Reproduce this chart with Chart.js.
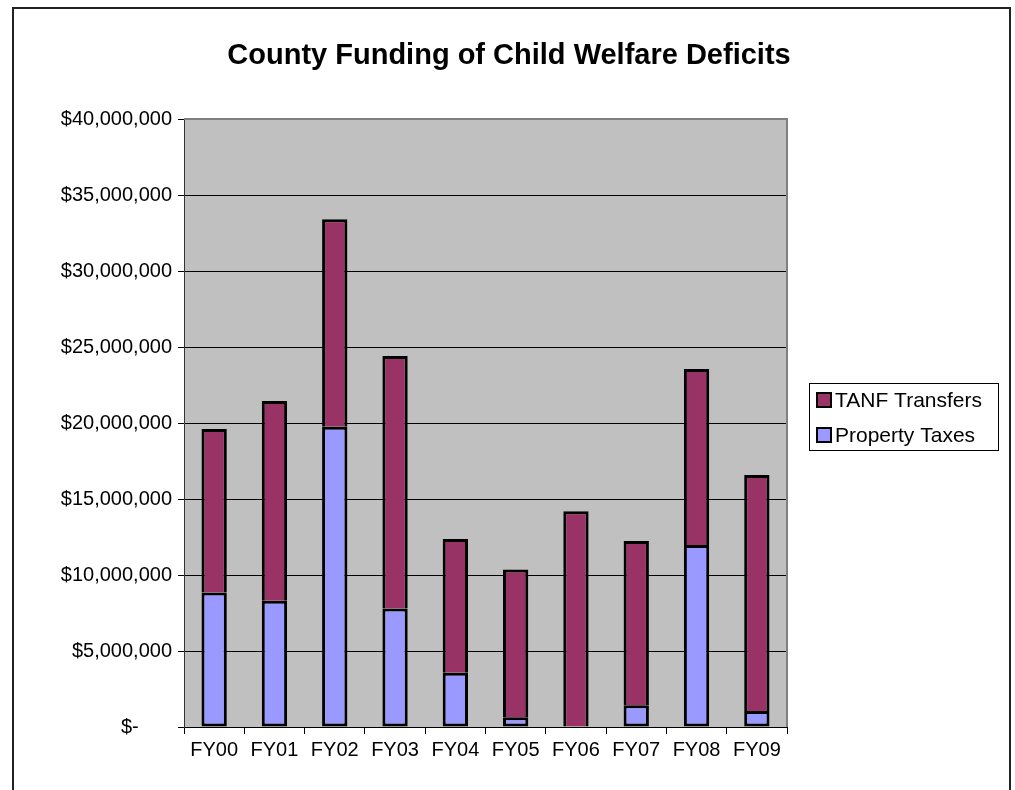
<!DOCTYPE html>
<html>
<head>
<meta charset="utf-8">
<title>County Funding of Child Welfare Deficits</title>
<script src="https://cdn.jsdelivr.net/npm/chart.js@4/dist/chart.umd.min.js"></script>
<style>
  body { margin: 0; background: #fff; }
  canvas { display: block; }
</style>
</head>
<body>
<canvas id="chart" width="1015" height="790"></canvas>
<script>
// fiscal years and the two funding sources (dollars)
let years = ["FY00", "FY01", "FY02", "FY03", "FY04", "FY05", "FY06", "FY07", "FY08", "FY09"];
let propertyTaxes = [8850000, 8300000, 19760000, 7800000, 3570000, 640000, 0, 1430000, 11970000, 1050000];
let tanfTransfers = [10750000, 13150000, 13640000, 16600000, 8800000, 9730000, 14200000, 10810000, 11580000, 15530000];
let yTicks = [0, 5000000, 10000000, 15000000, 20000000, 25000000, 30000000, 35000000, 40000000];

let chartTitle = "County Funding of Child Welfare Deficits";
let FONT = "Arial, 'Liberation Sans', sans-serif";

function money(v){
    if(v === 0){
        // accounting style zero, dash padded to the right
        return "$-" + "\u00a0".repeat(6);
    }
    return "$" + v.toLocaleString("en-US");
}

// white page, outer frame, grey plot area and title
let framePlugin = {
    id: "frame",
    beforeDraw: function(chart){
        let ctx = chart.ctx;
        let a = chart.chartArea;
        ctx.save();
        ctx.fillStyle = "#fff";
        ctx.fillRect(0, 0, chart.width, chart.height);
        ctx.strokeStyle = "#222";
        ctx.lineWidth = 2;
        ctx.strokeRect(13, 8, 997, chart.height + 20);
        ctx.fillStyle = "#c0c0c0";
        ctx.fillRect(a.left, a.top, a.right - a.left, a.bottom - a.top);
        ctx.fillStyle = "#000";
        ctx.font = "bold 29px " + FONT;
        ctx.textAlign = "center";
        ctx.textBaseline = "middle";
        ctx.fillText(chartTitle, 509, 56);
        ctx.restore();
    },
    afterDatasetsDraw: function(chart){
        let ctx = chart.ctx;
        let a = chart.chartArea;
        ctx.save();
        ctx.strokeStyle = "#808080";
        ctx.lineWidth = 2;
        ctx.beginPath();
        ctx.moveTo(a.left, a.top);
        ctx.lineTo(a.right, a.top);
        ctx.lineTo(a.right, a.bottom);
        ctx.stroke();
        ctx.restore();
    }
};

// boxed legend to the right of the plot, TANF listed first
let legendPlugin = {
    id: "sideLegend",
    afterDraw: function(chart){
        let ctx = chart.ctx;
        let sets = chart.data.datasets.slice().reverse();
        ctx.save();
        ctx.strokeStyle = "#000";
        ctx.lineWidth = 1;
        ctx.strokeRect(809.5, 383.5, 189, 67);
        ctx.font = "21px " + FONT;
        ctx.textBaseline = "middle";
        ctx.textAlign = "left";
        for(let i = 0; i < sets.length; i++){
            let y = 400 + i * 35;
            ctx.fillStyle = sets[i].backgroundColor;
            ctx.fillRect(817, y - 7, 14, 14);
            ctx.lineWidth = 2;
            ctx.strokeRect(817, y - 7, 14, 14);
            ctx.fillStyle = "#000";
            ctx.fillText(sets[i].label, 835, y + 1);
        }
        ctx.restore();
    }
};

new Chart(document.getElementById("chart"), {
    type: "bar",
    data: {
        labels: years,
        datasets: [{
            label: "Property Taxes",
            data: propertyTaxes,
            backgroundColor: "#9999ff",
            borderColor: "#000",
            borderWidth: 3,
            borderSkipped: false
        }, {
            label: "TANF Transfers",
            data: tanfTransfers,
            backgroundColor: "#993366",
            borderColor: "#000",
            borderWidth: 3,
            borderSkipped: "bottom"
        }]
    },
    options: {
        responsive: false,
        animation: false,
        devicePixelRatio: 1,
        layout: { padding: { top: 119, right: 228, bottom: 0, left: 0 } },
        datasets: { bar: { categoryPercentage: 1, barPercentage: 0.42 } },
        plugins: {
            legend: { display: false },
            title: { display: false },
            tooltip: { enabled: false }
        },
        scales: {
            x: {
                stacked: true,
                afterFit: function(scale){ scale.height = 63; },
                grid: { offset: true, drawOnChartArea: false, drawTicks: true, tickLength: 7, color: "#000", lineWidth: 1 },
                border: { color: "#000", width: 1 },
                ticks: { color: "#000", font: { family: FONT, size: 20 }, padding: 4, maxRotation: 0, autoSkip: false }
            },
            y: {
                stacked: true,
                min: 0,
                max: 40000000,
                afterFit: function(scale){ scale.width = 184; },
                afterBuildTicks: function(scale){
                    scale.ticks = yTicks.map(function(v){ return { value: v }; });
                },
                grid: { color: "#000", lineWidth: 1, tickLength: 6 },
                border: { color: "#333", width: 1 },
                ticks: { color: "#000", font: { family: FONT, size: 20 }, padding: 6, callback: money }
            }
        }
    },
    plugins: [framePlugin, legendPlugin]
});
</script>
</body>
</html>
